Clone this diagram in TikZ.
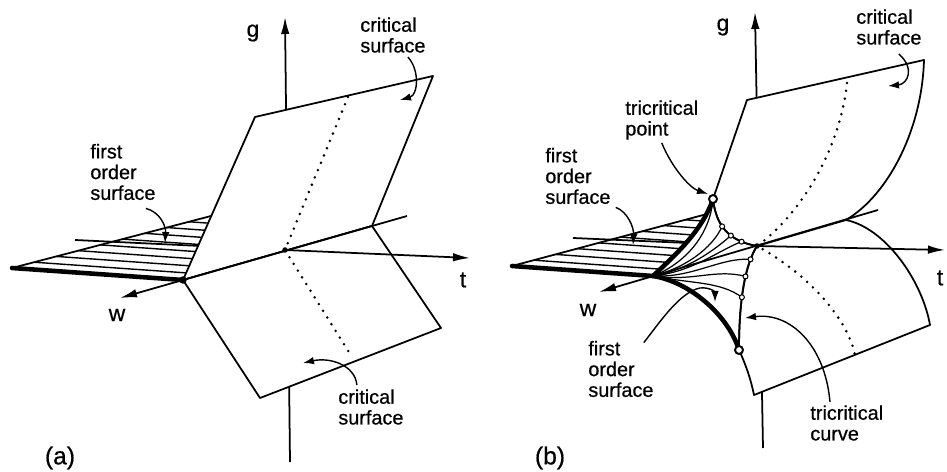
\documentclass[tikz,border=0pt]{standalone}
\usepackage{fontspec}
\setmainfont{Liberation Sans}[FakeBold=0.6]
\usetikzlibrary{arrows.meta,calc}

\begin{document}
\begin{tikzpicture}[
  x=0.02cm, y=-0.02cm, line join=round,
  edge/.style={line width=1pt},
  sheet/.style={edge, fill=white},
  rim/.style={line width=2.6pt, line cap=round},
  hatch/.style={line width=0.8pt},
  mesh/.style={line width=0.7pt},
  trace/.style={line width=1.6pt, line cap=round, dash pattern=on 0pt off 4.5pt},
  axis/.style={edge, -{Latex[length=3.4mm, width=1.7mm]}},
  leader/.style={line width=0.8pt, -{Latex[length=2.2mm, width=1.5mm]}},
  tag/.style={font=\fontsize{11.3}{11.8}\selectfont, align=left, anchor=west, inner sep=0pt},
  letter/.style={font=\fontsize{13}{13}\selectfont, inner sep=0pt},
  panel/.style={font=\fontsize{14}{14}\selectfont, inner sep=0pt},
  ring/.style={circle, draw, fill=white, line width=0.6pt, inner sep=0pt, minimum size=1.0mm},
  bigring/.style={ring, line width=1.1pt, minimum size=1.6mm},
  knot/.style={circle, fill, inner sep=0pt, minimum size=1.1mm},
]
\useasboundingbox (0,0) rectangle (947,472);

% (a)
\coordinate (Oa) at (285,250);
\coordinate (Va) at (183,280);
\coordinate (Ca) at (372,226);
\coordinate (Ea) at (407,216);
\coordinate (Wa) at (120,298);
\coordinate (P1a) at (255,117);
\coordinate (P2a) at (433,76);
\coordinate (Q1a) at (441,328);
\coordinate (Q2a) at (260,398);
\coordinate (La) at (12,268);
\coordinate (Ta) at (211,216);
\coordinate (Ba) at (75,240);
\coordinate (Ga0) at (290,462);
\coordinate (Ga) at (285,17);
\coordinate (Xa) at (470,258);

\draw[edge] (La) -- (Ta);
\foreach \k in {1,...,8}
  \draw[hatch] ($(La)!\k/9!(Ta)$) -- ($(Va)!\k/9!(Ta)$);
\draw[edge] (Ba) -- (Oa);
\draw[axis] (Ga0) -- (Ga);
\draw[sheet] (Va) -- (P1a) -- (P2a) -- (Ca) -- cycle;
\draw[sheet] (Va) -- (Q2a) -- (Q1a) -- (Ca) -- cycle;
\draw[trace] (348,97) -- (Oa) -- (352,357);
\draw[axis] (Ea) -- (Wa);
\draw[axis] (Oa) -- (Xa);
\draw[rim] (La) -- (Va);
\node[knot] (oa) at (Oa) {};
\node[knot, minimum size=1.5mm] (va) at (Va) {};

\node[letter] (ga) at (253,33) {g};
\node[letter] (ta) at (463,280) {t};
\node[letter] (wa) at (117,315) {w};
\node[panel] (pa) at (60,458) {(a)};
\node[tag] (crita) at (360,35) {critical\\surface};
\node[tag] (critb) at (338,407) {critical\\surface};
\node[tag] (firsta) at (90,172) {first\\order\\surface};

\draw[leader] ([shift={(-10,8)}]firsta.south east) .. controls (160,212) and (166,226) .. (165,243);
\draw[leader] ([shift={(-18,4)}]crita.south east) .. controls (420,70) and (418,95) .. (400,100);
\draw[leader] ([shift={(-14,-4)}]critb.north) .. controls (355,365) and (330,357) .. (303,363);

% (b)
\coordinate (Ob) at (757,246);
\coordinate (Vb) at (653,276);
\coordinate (Cb) at (846,220);
\coordinate (Eb) at (878,210);
\coordinate (Wb) at (599,292);
\coordinate (Lb) at (512,266);
\coordinate (Tb) at (707,214);
\coordinate (Pb) at (713,199);
\coordinate (Rb) at (739,350);
\coordinate (P1b) at (747,100);
\coordinate (P2b) at (924,60);
\coordinate (Q1b) at (930,325);
\coordinate (Q2b) at (754,395);
\coordinate (Bb) at (573,238);
\coordinate (Gb0) at (763,448);
\coordinate (Gb) at (755,12);
\coordinate (Xb) at (945,250);

\path (Pb) .. controls (716,225) and (728,241) .. (Ob)
  coordinate[pos=0.42] (m1) coordinate[pos=0.62] (m2) coordinate[pos=0.8] (m3);
\path (Ob) .. controls (745,265) and (739,300) .. (Rb)
  coordinate[pos=0.2] (n1) coordinate[pos=0.4] (n2) coordinate[pos=0.6] (n3);

\draw[edge] (Bb) -- (Ob);
\draw[axis] (Gb0) -- (Gb);
\begin{scope}
  \clip (Lb) -- (Vb) .. controls (672,258) and (702,232) .. (Pb) -- cycle;
  \clip (Lb) -- ($(Lb)!1.3!(Tb)$) -- (800,330) -- (480,330) -- cycle;
  \foreach \k in {1,...,8}
    \draw[hatch] (500,{265.1-7.3*\k}) -- ++(260,18.4);
\end{scope}
\draw[edge] (Lb) -- (Tb);
\fill[white] (Vb) .. controls (672,258) and (702,232) .. (Pb)
  .. controls (716,225) and (728,241) .. (Ob)
  .. controls (745,265) and (739,300) .. (Rb)
  .. controls (728,315) and (690,282) .. (Vb) -- cycle;
\draw[sheet] (P1b) -- (P2b) .. controls (922,130) and (888,195) .. (Cb) -- (Ob)
  .. controls (728,241) and (716,225) .. (Pb) -- cycle;
\draw[sheet] (Cb) .. controls (885,228) and (922,280) .. (Q1b) -- (Q2b)
  .. controls (751,380) and (746,365) .. (Rb)
  .. controls (739,300) and (745,265) .. (Ob) -- cycle;
\draw[trace] (847,83) .. controls (840,150) and (800,215) .. (Ob)
  .. controls (810,275) and (848,320) .. (855,355);

\draw[mesh] (Vb) .. controls (684,264) and (710,236) .. (Pb);
\draw[mesh] (Vb) .. controls +(32,-8) and +(-10,22) .. (m1);
\draw[mesh] (Vb) .. controls +(35,-6) and +(-16,14) .. (m2);
\draw[mesh] (Vb) .. controls +(40,-4) and +(-22,8) .. (m3);
\draw[mesh] (Vb) .. controls +(40,2) and +(-30,-2) .. (n1);
\draw[mesh] (Vb) .. controls +(40,6) and +(-30,-8) .. (n2);
\draw[mesh] (Vb) .. controls +(40,8) and +(-22,-16) .. (n3);

\draw[axis] (Eb) -- (Wb);
\draw[axis] (Ob) -- (Xb);
\draw[rim] (Lb) -- (Vb);
\draw[rim] (Vb) .. controls (672,258) and (702,232) .. (Pb);
\draw[rim] (Vb) .. controls (690,282) and (728,315) .. (Rb);
\draw[edge] (Pb) .. controls (716,225) and (728,241) .. (Ob)
  .. controls (745,265) and (739,300) .. (Rb);
\foreach \c in {m1,m2,m3,n1,n2,n3}
  \node[ring] (r-\c) at (\c) {};
\node[bigring] (tp) at (Pb) {};
\node[bigring] (tq) at (Rb) {};
\node[knot] (ob) at (Ob) {};

\node[letter] (gb) at (723,27) {g};
\node[letter] (tb) at (940,278) {t};
\node[letter] (wb) at (588,310) {w};
\node[panel] (pb) at (550,458) {(b)};
\node[tag] (critc) at (856,27) {critical\\surface};
\node[tag] (tripoint) at (625,120) {tricritical\\point};
\node[tag] (firstb) at (545,176) {first\\order\\surface};
\node[tag] (firstc) at (588,369) {first\\order\\surface};
\node[tag] (tricurve) at (810,423) {tricritical\\curve};

\draw[leader] ([shift={(-23,9)}]critc.south east) .. controls (915,68) and (908,84) .. (888,86);
\draw[leader] ([shift={(0,3)}]tripoint.south) .. controls (672,168) and (690,188) .. (708,194);
\draw[leader] ([shift={(5,3)}]firstb.south east) .. controls (628,212) and (634,228) .. (633,245);
\draw[leader] ([shift={(-10,2)}]firstc.north east) .. controls (660,322) and (680,292) .. (700,288)
  .. controls (710,287) and (715,292) .. (715,302);
\draw[leader] ([shift={(20,-3)}]tricurve.north west) .. controls (825,345) and (790,312) .. (745,318);
\end{tikzpicture}
\end{document}
